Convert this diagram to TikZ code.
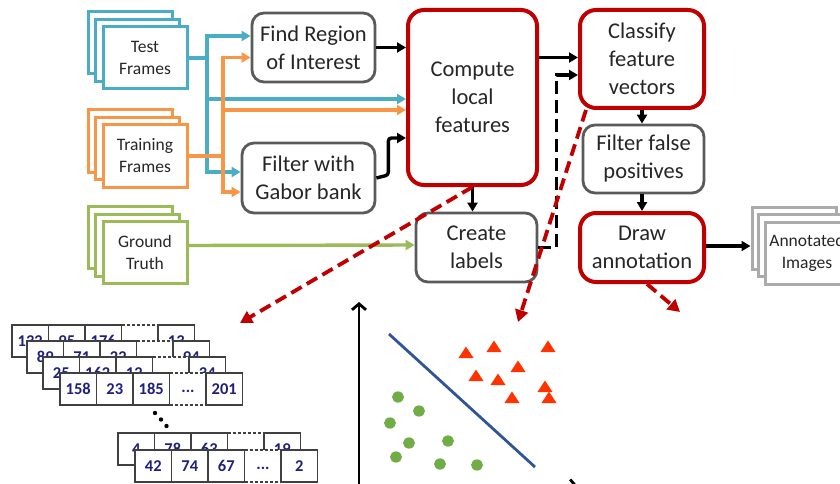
\documentclass[tikz,border=0pt]{standalone}
\usepackage{fontspec}
\setmainfont{Carlito}
\usetikzlibrary{arrows.meta,calc}
\definecolor{tblue}{HTML}{4BACC6}
\definecolor{torange}{HTML}{F79646}
\definecolor{tgreen}{HTML}{9BBB59}
\definecolor{boxgray}{HTML}{5A5A5A}
\definecolor{anngray}{HTML}{ABABAB}
\definecolor{dred}{HTML}{C00000}
\definecolor{navy}{HTML}{1F1F80}
\definecolor{trired}{HTML}{FF3300}
\definecolor{dotgreen}{HTML}{70AD47}
\definecolor{sepblue}{HTML}{2F5597}
\begin{document}
\begin{tikzpicture}[x=1pt,y=-1pt,
  box/.style={draw=boxgray,line width=2.8pt,rounded corners=12pt,fill=white,align=center,text=black!85,font=\fontsize{22.5}{28}\selectfont,inner sep=0pt},
  redbox/.style={box,draw=dred,line width=4pt,rounded corners=16pt},
  stackframe/.style={draw=#1,line width=3pt,fill=white,minimum width=84pt,minimum height=62pt,inner sep=0pt,align=center,font=\fontsize{17.5}{22}\selectfont,text=black!85},
  flow/.style={line width=3.4pt,-{Triangle[length=9pt,width=10pt]}},
  blkflow/.style={flow,draw=black},
  blkdash/.style={draw=black,line width=3.8pt,dash pattern=on 13pt off 6pt,-{Triangle[length=9pt,width=10pt]}},
  reddash/.style={draw=dred,line width=3.8pt,dash pattern=on 12pt off 6pt,-{Triangle[length=12pt,width=13pt]}},
  cellline/.style={draw=black!75,line width=1.4pt},
  cellnum/.style={inner sep=0pt,text=navy,font=\fontsize{16.5}{19}\selectfont\bfseries},
  axis/.style={line width=2.8pt,-{Straight Barb[length=6pt,width=14pt]}}
]
\useasboundingbox (0,0) rectangle (840,484);
\clip (0,0) rectangle (840,484);

% ---------- input stacks ----------
\node[stackframe=tblue] (testb) at (130,43) {};
\node[stackframe=tblue] (testm) at (137.5,50.5) {};
\node[stackframe=tblue] (test) at (145,58) {Test\\Frames};

\node[stackframe=torange] (trainb) at (130,141) {};
\node[stackframe=torange] (trainm) at (137.5,148.5) {};
\node[stackframe=torange] (train) at (145,156) {Training\\Frames};

\node[stackframe=tgreen] (gtb) at (130,237.5) {};
\node[stackframe=tgreen] (gtm) at (137.5,245) {};
\node[stackframe=tgreen] (gt) at (145,252.5) {Ground\\Truth};

\node[stackframe=anngray] (annb) at (794,238) {};
\node[stackframe=anngray] (annm) at (800.5,245.5) {};
\node[stackframe=anngray] (ann) at (807,253) {Annotated\\Images};

% ---------- process boxes ----------
\node[box,minimum width=123pt,minimum height=69pt] (roi) at (313.5,47.5) {Find Region\\of Interest};
\node[box,minimum width=133pt,minimum height=70pt] (gabor) at (308.5,178) {Filter with\\Gabor bank};
\node[redbox,minimum width=129pt,minimum height=175pt] (comp) at (472.5,97.5) {Compute\\local\\features};
\node[redbox,minimum width=124pt,minimum height=98pt] (clf) at (642,59) {Classify\\feature\\vectors};
\node[box,minimum width=121pt,minimum height=68pt] (ffp) at (643.5,159) {Filter false\\positives};
\node[redbox,minimum width=124pt,minimum height=69pt] (drw) at (642,247.5) {Draw\\annotation};
\node[box,minimum width=121pt,minimum height=69pt] (lab) at (476.5,247.5) {Create\\labels};

% ---------- coloured connectors ----------
\coordinate (bj) at (207,58);
\coordinate (oj) at (223,156);
\draw[line width=3.4pt,tblue] (test.east) -- (bj);
\draw[flow,tblue] (bj) |- ($(roi.west)+(0,-11.5)$);
\draw[flow,tblue] (bj) |- ($(comp.west)+(0,1.5)$);
\draw[flow,tblue] (bj) |- ($(gabor.west)+(0,-6)$);
\draw[line width=3.4pt,torange] (train.east) -- (oj);
\draw[flow,torange] (oj) |- ($(roi.west)+(0,10)$);
\draw[flow,torange] (oj) |- ($(comp.west)+(0,12.5)$);
\draw[flow,torange] (oj) |- ($(gabor.west)+(0,14)$);
\draw[flow,tgreen] ($(gt.east)+(0,-7)$) -- ($(lab.west)+(0,-2.5)$);

% ---------- black connectors ----------
\draw[blkflow] (roi.east) -- (roi.east -| comp.west);
\draw[blkflow,rounded corners=3pt] (gabor.east) -- ++(12,-3) |- ($(comp.west)+(0,40.5)$);
\draw[blkflow] ($(comp.east)+(0,-40)$) -- ($(clf.west)+(0,-1.5)$);
\draw[blkdash] (lab.east) -- ++(18,0) |- ($(clf.west)+(0,16)$);
\draw[blkflow] (comp.south) -- (comp.south |- lab.north);
\draw[blkflow] (clf.south) -- (clf.south |- ffp.north);
\draw[blkflow] (ffp.south -| drw.south) -- (drw.north);
\draw[blkflow] ($(drw.east)+(0,-1.5)$) -- ($(drw.east -| annb.west)+(0,-1.5)$);

% ---------- feature vector arrays ----------
\foreach \r/\xo/\yo/\a/\b/\c/\e in {1/12/325/132/95/176/13, 2/27/341/89/71/22/94, 3/43/357/25/162/12/34, 4/60/373/158/23/185/201, 5/118/433/4/78/63/19, 6/135/450/42/74/67/2} {
  \fill[white] (\xo,\yo) rectangle ++(182.5,32);
  \foreach \i/\t in {0/\a,1/\b,2/\c,4/\e} {
    \draw[cellline] (\xo+\i*36.5,\yo) rectangle ++(36.5,32);
    \node[cellnum] (n\r-\i) at (\xo+\i*36.5+18.25,\yo+16) {\t};
  }
  \draw[cellline,dash pattern=on 3pt off 2pt] (\xo+109.5,\yo) -- ++(36.5,0) (\xo+109.5,\yo+32) -- ++(36.5,0);
  \node[cellnum] (n\r-3) at (\xo+128,\yo+18) {...};
}
\fill (155,413) circle (2.2pt);
\fill (161,419.5) circle (2.2pt);
\fill (166.5,426) circle (2.2pt);

% ---------- classifier plot ----------
\draw[axis] (359,490) -- (359,302);
\draw[axis] (359,486.5) -- (578,486.5);
\draw[sepblue,line width=2.8pt] (389,334) -- (535,467);
\foreach \x/\y in {466/353,494/347,548/347,518/367,476/376,498/380,545/387,512/398,549/398}
  \fill[trired] (\x-7.5,\y+5) -- (\x+7.5,\y+5) -- (\x,\y-6.5) -- cycle;
\foreach \x/\y in {398/397,419/411,390/423,409/443,448/441,396/457,440/464,477/465}
  \fill[dotgreen] (\x,\y) ellipse (6pt and 5.6pt);

% ---------- red dashed zoom arrows ----------
\coordinate (arrA) at (240,323);
\coordinate (arrB) at (518,322);
\coordinate (arrC) at (680,312);
\draw[reddash] (comp.south) -- (arrA);
\draw[reddash] ($(clf.south west)+(8,0)$) -- (arrB);
\draw[reddash] ($(drw.south)+(5,0)$) -- (arrC);
\end{tikzpicture}
\end{document}
